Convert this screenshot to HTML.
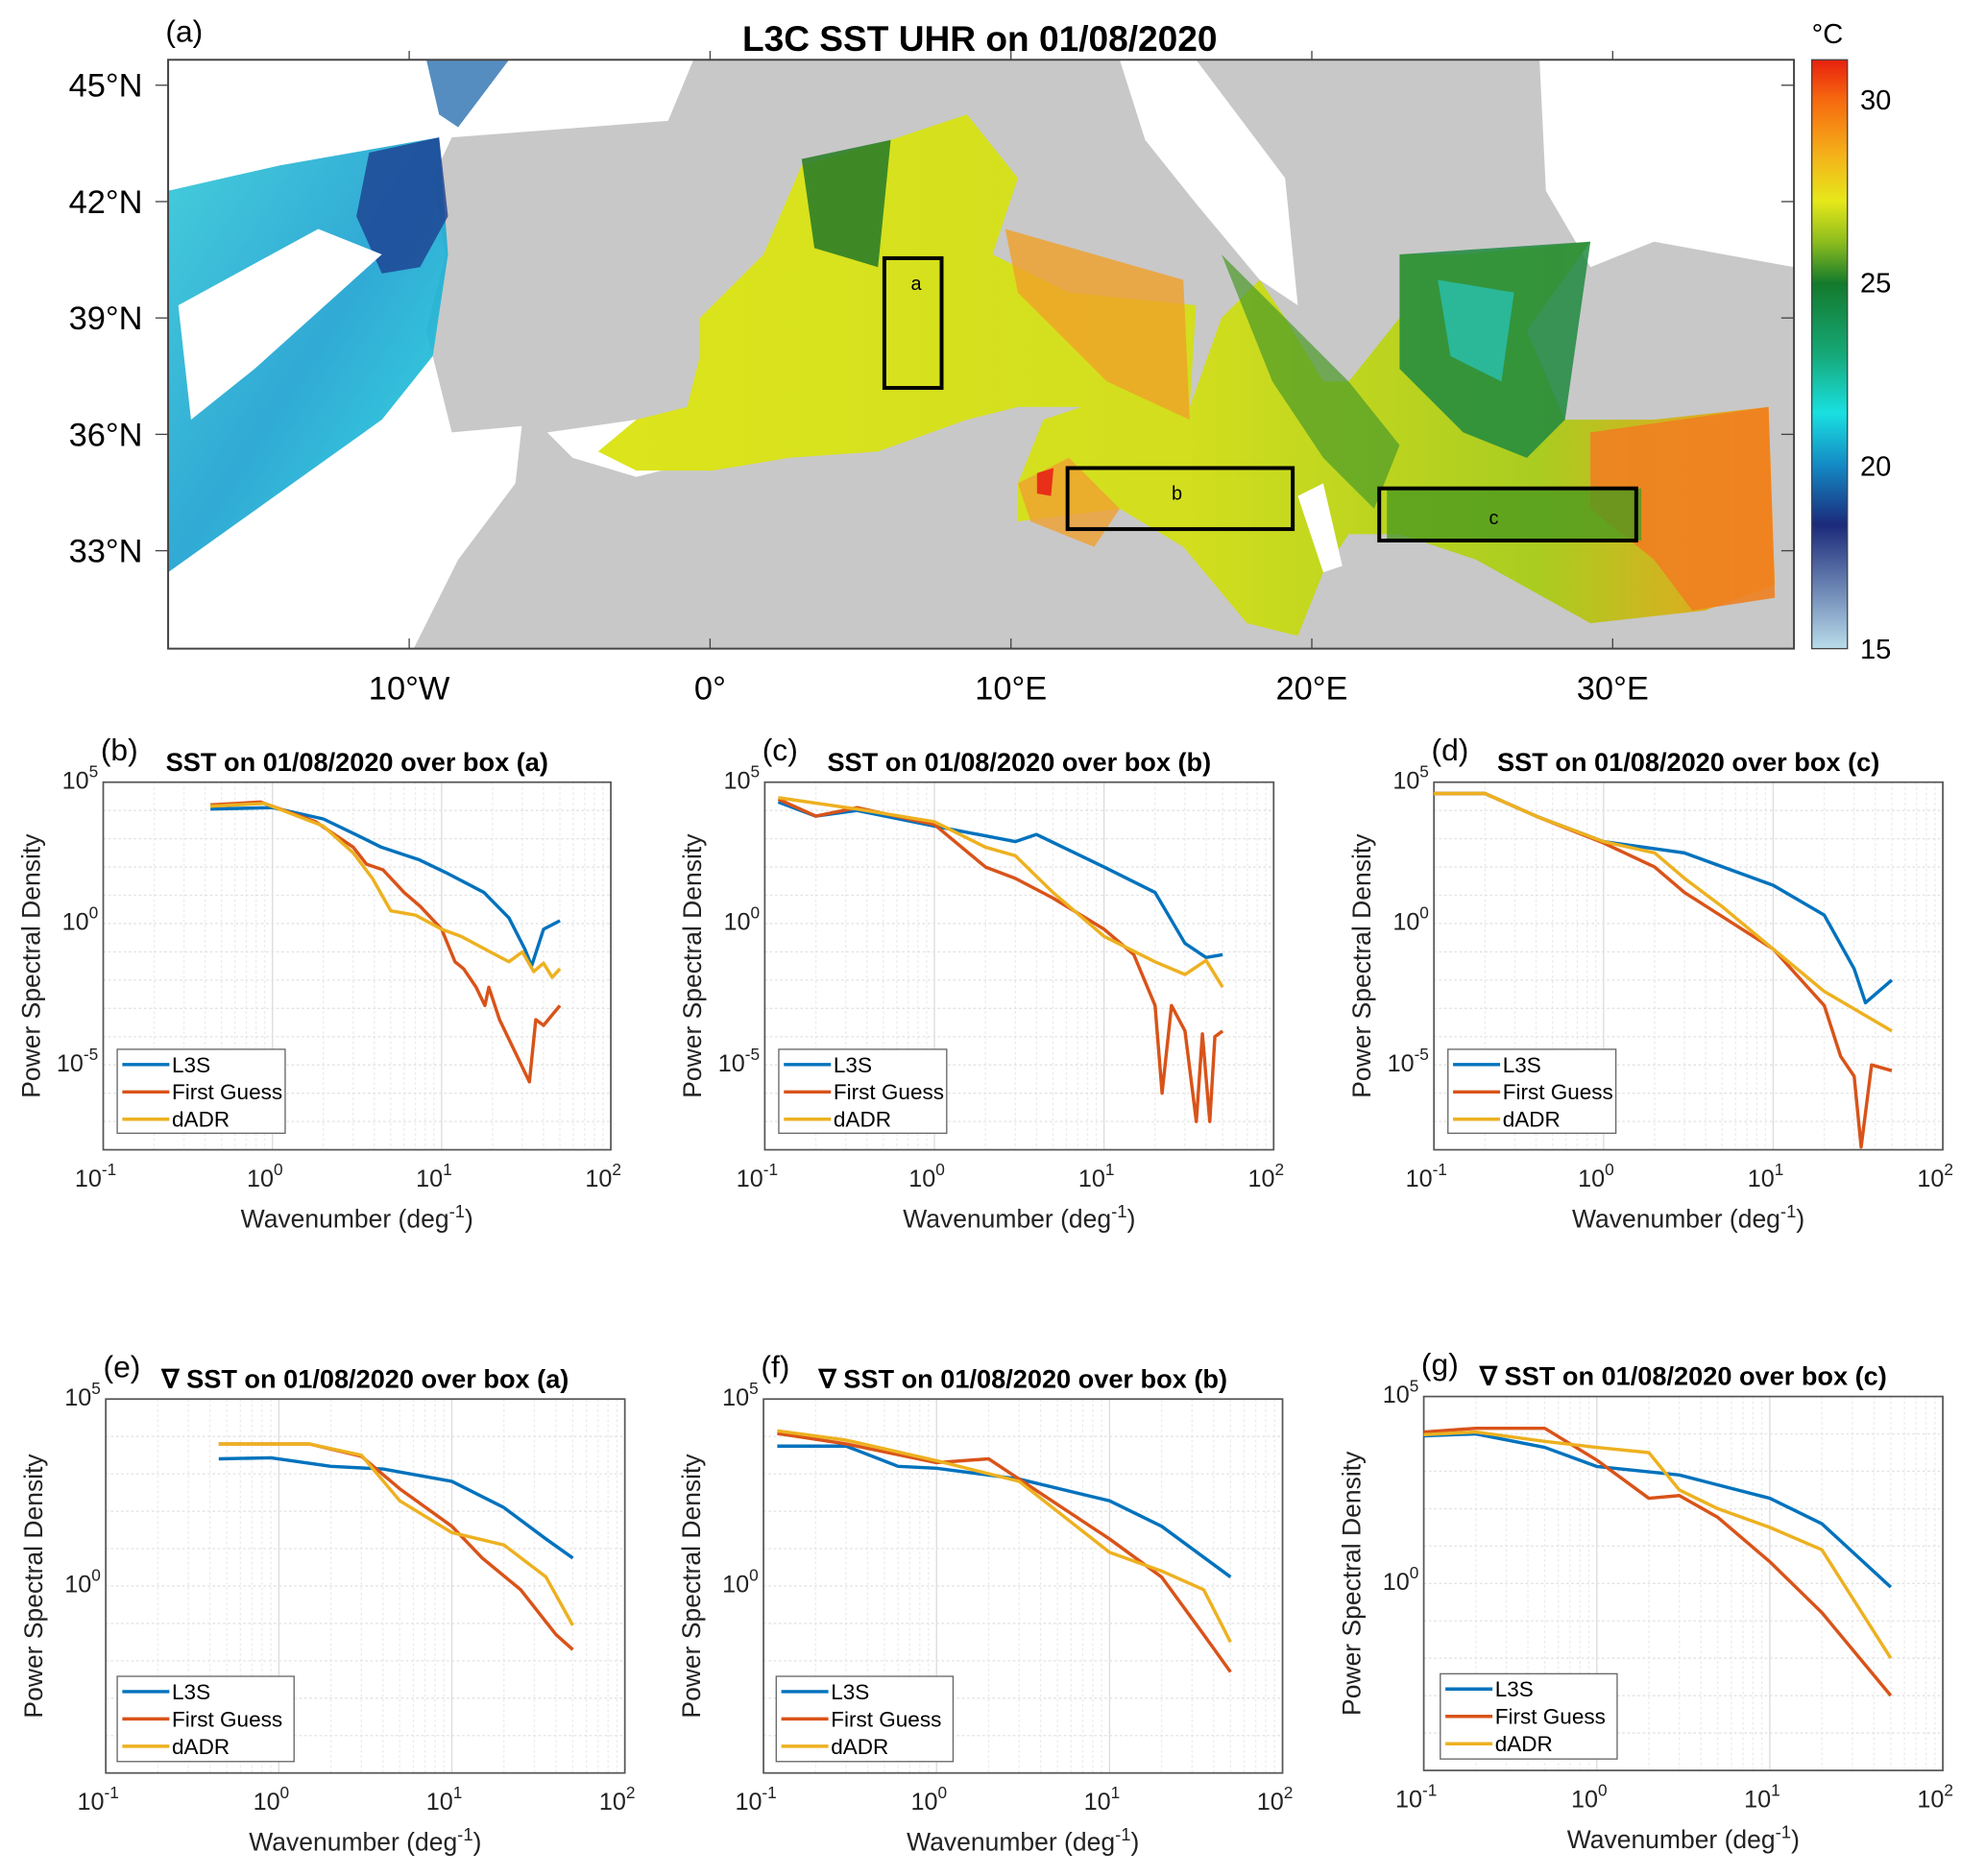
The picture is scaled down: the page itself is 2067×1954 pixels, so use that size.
<!DOCTYPE html>
<html><head><meta charset="utf-8"><style>
html,body{margin:0;padding:0;background:#fff;}
svg{display:block;font-family:"Liberation Sans",sans-serif;}
</style></head><body>
<svg id="fig" width="2067" height="1954" viewBox="0 0 1560 1475" xmlns="http://www.w3.org/2000/svg">
<defs>
<linearGradient id="cbar" x1="0" y1="0" x2="0" y2="1">
<stop offset="0" stop-color="#e8200e"/><stop offset="0.067" stop-color="#f6680f"/><stop offset="0.16" stop-color="#f5b01a"/><stop offset="0.24" stop-color="#e6e81a"/><stop offset="0.31" stop-color="#8cbc1e"/><stop offset="0.38" stop-color="#137a2c"/><stop offset="0.50" stop-color="#16a878"/><stop offset="0.60" stop-color="#19e0e0"/><stop offset="0.69" stop-color="#1488c4"/><stop offset="0.79" stop-color="#1b2a7a"/><stop offset="1" stop-color="#b9dcea"/>
</linearGradient>
<linearGradient id="atl" x1="0" y1="0" x2="1" y2="1"><stop offset="0" stop-color="#30c8d8"/><stop offset="0.5" stop-color="#1aa0d0"/><stop offset="1" stop-color="#20d8e0"/></linearGradient>
<linearGradient id="med" x1="0" y1="0" x2="1" y2="0"><stop offset="0" stop-color="#dce41c"/><stop offset="0.5" stop-color="#d2de1e"/><stop offset="0.8" stop-color="#aacc20"/><stop offset="1" stop-color="#f0a020"/></linearGradient>
</defs>
<g id="map">
<rect x="132" y="47" width="1278" height="463" fill="#c8c8c8"/>
<polygon fill="#fff" points="132,47 545,47 525,95 460,100 355,108 340,140 350,200 335,260 345,300 355,340 410,335 405,380 360,440 340,480 325,510 132,510"/>
<polygon fill="url(#atl)" opacity="0.9" points="132,150 220,130 345,108 352,200 340,280 300,330 230,380 160,430 132,450"/>
<polygon fill="#1d3f90" opacity="0.8" points="290,120 345,108 352,170 330,210 300,215 280,170"/>
<polygon fill="#2a70b0" opacity="0.8" points="335,47 400,47 360,100 345,90"/>
<polygon fill="#fff" points="140,240 250,180 300,200 200,290 150,330"/>
<polygon fill="#fff" points="1210,47 1410,47 1410,210 1300,190 1250,210 1215,150"/>
<polygon fill="#fff" points="880,47 940,47 1010,140 1020,240 990,220 940,160 900,110"/>
<polygon fill="#fff" points="430,340 500,330 560,330 560,360 500,375 450,360"/>
<polygon fill="url(#med)" points="550,250 600,200 630,130 700,110 760,90 800,140 780,200 840,230 940,240 935,320 960,250 990,220 1010,250 1040,300 1060,300 1100,250 1100,200 1150,200 1250,190 1200,260 1230,330 1300,330 1390,320 1395,460 1340,480 1250,490 1160,440 1100,420 1060,420 1040,450 1020,500 980,490 930,430 880,400 800,410 800,380 820,330 850,320 800,320 760,330 690,355 620,360 560,370 500,370 470,355 500,330 540,320 550,280"/>
<polygon fill="#f0a028" opacity="0.8" points="790,180 930,220 935,330 870,300 800,230"/>
<polygon fill="#f08020" opacity="0.9" points="1250,340 1390,320 1395,470 1330,480 1300,440 1250,400"/>
<polygon fill="#f0a030" opacity="0.8" points="800,380 840,360 880,400 860,430 810,410"/>
<polygon fill="#e83018" points="815,372 828,368 826,390 815,388"/>
<polygon fill="#1f8a40" opacity="0.85" points="1100,200 1250,190 1230,330 1200,360 1150,340 1100,290"/>
<polygon fill="#28c0b0" opacity="0.8" points="1130,220 1190,230 1180,300 1140,280"/>
<polygon fill="#4a9a28" opacity="0.7" points="960,200 1010,250 1060,300 1100,350 1080,400 1040,360 1000,300"/>
<polygon fill="#2e7f28" opacity="0.9" points="630,125 700,110 690,210 640,195"/>
<polygon fill="#4c9a1e" opacity="0.8" points="1090,384 1290,384 1290,425 1090,425"/>
<polygon fill="#fff" points="1020,390 1040,380 1055,445 1040,450"/>
<rect x="695" y="203" width="45" height="102" fill="none" stroke="#000" stroke-width="3"/>
<text x="720" y="228" font-size="15" text-anchor="middle">a</text>
<rect x="839" y="368" width="177" height="48" fill="none" stroke="#000" stroke-width="3"/>
<text x="925" y="393" font-size="15" text-anchor="middle">b</text>
<rect x="1084" y="384" width="202" height="41" fill="none" stroke="#000" stroke-width="3"/>
<text x="1174" y="412" font-size="15" text-anchor="middle">c</text>
<rect x="132" y="47" width="1278" height="463" fill="none" stroke="#444" stroke-width="1.5"/>
<g id="mapticks"></g>
<text x="770" y="40" font-size="28" font-weight="bold" text-anchor="middle">L3C SST UHR on 01/08/2020</text>
<text x="130" y="33" font-size="24">(a)</text>
<rect x="1424" y="47" width="28" height="463" fill="url(#cbar)" stroke="#444"/>
<text x="1424" y="34" font-size="22">°C</text>
<g id="cbticks"></g>
</g>
<g id="plots"></g>
</svg>
<script>
const NS="http://www.w3.org/2000/svg";
function mk(tag,attrs,parent,txt){const e=document.createElementNS(NS,tag);for(const k in attrs)e.setAttribute(k,attrs[k]);if(txt!==undefined)e.textContent=txt;parent.appendChild(e);return e;}

const lonTicks=[-10,0,10,20,30];
const lonLabels=["10°W","0°","10°E","20°E","30°E"];
const latTicks=[45,42,39,36,33];
const latLabels=["45°N","42°N","39°N","36°N","33°N"];
const cbTicks=[30,25,20,15];
function lonX(l){return 558+23.65*l;}
function latY(l){return 67+(45-l)*(366/12);}
function cbY(t){return 510-(t-15)*(432/15);}
const mt=document.getElementById('mapticks');
lonTicks.forEach((l,i)=>{const x=lonX(l);
 mk('line',{x1:x,x2:x,y1:40,y2:47,stroke:'#444'},mt);mk('line',{x1:x,x2:x,y1:510,y2:502,stroke:'#444'},mt);
 const t=mk('text',{x:x,y:550,'font-size':26,'text-anchor':'middle'},mt,lonLabels[i]);
 
 });
latTicks.forEach((l,i)=>{const y=latY(l);
 mk('line',{x1:132,x2:122,y1:y,y2:y,stroke:'#444'},mt);mk('line',{x1:1410,x2:1400,y1:y,y2:y,stroke:'#444'},mt);
 const t=mk('text',{x:112,y:y+9,'font-size':26,'text-anchor':'end'},mt,latLabels[i]);
 
 });
const cbt=document.getElementById('cbticks');
cbTicks.forEach(v=>{const y=cbY(v);
 const t=mk('text',{x:1462,y:y+8,'font-size':22},cbt,String(v));
 
 });

const kB_L3S=[0.43,1,2,3.1,4.4,7.4,10.6,17.8,25,31,34,40,50];
const pB_L3S=[4.05,4.1,3.7,3.15,2.7,2.25,1.8,1.1,0.2,-0.9,-1.5,-0.2,0.1];
const kB_FG=[0.43,0.85,1.8,3,3.6,4.5,6,7.5,10,12,13.5,16,18,19,22,33,36,40,50];
const pB_FG=[4.2,4.3,3.6,2.7,2.1,1.9,1.1,0.6,-0.2,-1.35,-1.6,-2.25,-2.9,-2.25,-3.4,-5.6,-3.4,-3.6,-2.9];
const kB_AD=[0.43,0.9,2,3,3.9,5,7,10,13,18,25,30,35,40,45,50];
const pB_AD=[4.15,4.25,3.45,2.5,1.6,0.45,0.3,-0.2,-0.45,-0.9,-1.35,-1.0,-1.7,-1.4,-1.9,-1.6];

const kC_L3S=[0.12,0.2,0.35,1,3,4,10,20,30,40,50];
const pC_L3S=[4.3,3.8,4.0,3.45,2.9,3.15,2.0,1.1,-0.7,-1.2,-1.1];
const kC_FG=[0.12,0.2,0.35,1,2,3,5,10,15,20,22,25,30,35,38,42,45,50];
const pC_FG=[4.4,3.8,4.1,3.5,2.0,1.6,0.9,-0.2,-1.1,-2.9,-6,-2.9,-3.8,-7,-3.9,-7,-4,-3.8];
const kC_AD=[0.12,0.35,1,2,3,5,10,20,30,40,50];
const pC_AD=[4.45,4.05,3.6,2.7,2.4,1.1,-0.45,-1.35,-1.8,-1.3,-2.25];

const kD_L3S=[0.1,0.2,0.4,1,3,10,20,30,35,50];
const pD_L3S=[4.6,4.6,3.8,2.9,2.5,1.35,0.3,-1.6,-2.8,-2.0];
const kD_FG=[0.1,0.2,0.4,1,2,3,10,20,25,30,33,38,50];
const pD_FG=[4.6,4.6,3.8,2.85,2.0,1.1,-0.9,-2.9,-4.7,-5.4,-7.9,-5.0,-5.2];
const kD_AD=[0.1,0.2,0.4,1,2,3,5,10,20,50];
const pD_AD=[4.6,4.6,3.8,2.9,2.5,1.6,0.6,-0.9,-2.4,-3.8];

const kE_L3S=[0.45,0.9,2,4,10,20,35,50];
const pE_L3S=[3.4,3.43,3.2,3.13,2.8,2.1,1.26,0.75];
const kE_FG=[0.45,1.5,3,5,10,15,25,40,50];
const pE_FG=[3.8,3.8,3.47,2.6,1.6,0.75,-0.1,-1.3,-1.7];
const kE_AD=[0.45,1.5,3,5,10,20,35,50];
const pE_AD=[3.8,3.8,3.5,2.28,1.43,1.1,0.24,-1.05];

const kF_L3S=[0.12,0.3,0.6,1,3,10,20,50];
const pF_L3S=[3.74,3.74,3.2,3.15,2.86,2.28,1.6,0.24];
const kF_FG=[0.12,0.3,1,2,3,10,20,35,50];
const pF_FG=[4.08,3.8,3.3,3.4,2.86,1.26,0.24,-1.3,-2.3];
const kF_AD=[0.12,0.3,1,3,10,20,35,50];
const pF_AD=[4.15,3.9,3.35,2.8,0.9,0.4,-0.1,-1.5];

const kG_L3S=[0.1,0.2,0.5,1,3,10,20,50];
const pG_L3S=[3.95,4.0,3.64,3.13,2.9,2.28,1.6,-0.1];
const kG_FG=[0.1,0.2,0.5,1,2,3,5,10,20,50];
const pG_FG=[4.05,4.15,4.15,3.3,2.28,2.35,1.77,0.58,-0.78,-3.0];
const kG_AD=[0.1,0.2,0.5,1,2,3,5,10,20,50];
const pG_AD=[3.98,4.05,3.8,3.64,3.5,2.5,2.0,1.5,0.9,-2.0];

const panels=[
 {id:'b',title:'SST on 01/08/2020 over box (a)',x0:81,x1:480,y0:615,y1:904,ymin:-8,ymax:5,yt:[5,0,-5],s:[[kB_L3S,pB_L3S],[kB_FG,pB_FG],[kB_AD,pB_AD]],leg:[92,825,132,66]},
 {id:'c',title:'SST on 01/08/2020 over box (b)',x0:601,x1:1001,y0:615,y1:904,ymin:-8,ymax:5,yt:[5,0,-5],s:[[kC_L3S,pC_L3S],[kC_FG,pC_FG],[kC_AD,pC_AD]],leg:[612,825,132,66]},
 {id:'d',title:'SST on 01/08/2020 over box (c)',x0:1127,x1:1527,y0:615,y1:904,ymin:-8,ymax:5,yt:[5,0,-5],s:[[kD_L3S,pD_L3S],[kD_FG,pD_FG],[kD_AD,pD_AD]],leg:[1138,825,132,66]},
 {id:'e',title:'∇ SST on 01/08/2020 over box (a)',x0:83,x1:491,y0:1100,y1:1394,ymin:-5,ymax:5,yt:[5,0],s:[[kE_L3S,pE_L3S],[kE_FG,pE_FG],[kE_AD,pE_AD]],leg:[92,1318,139,67]},
 {id:'f',title:'∇ SST on 01/08/2020 over box (b)',x0:600,x1:1008,y0:1100,y1:1394,ymin:-5,ymax:5,yt:[5,0],s:[[kF_L3S,pF_L3S],[kF_FG,pF_FG],[kF_AD,pF_AD]],leg:[610,1318,139,67]},
 {id:'g',title:'∇ SST on 01/08/2020 over box (c)',x0:1119,x1:1527,y0:1098,y1:1392,ymin:-5,ymax:5,yt:[5,0],s:[[kG_L3S,pG_L3S],[kG_FG,pG_FG],[kG_AD,pG_AD]],leg:[1132,1316,139,67]}
];
const colors=['#0072bd','#d95319','#edb120'];
const names=['L3S','First Guess','dADR'];
const root=document.getElementById('plots');
panels.forEach(P=>{
 const g=mk('g',{},root);
 
 
 const X=k=>P.x0+(Math.log10(k)+1)/3*(P.x1-P.x0);
 const Y=v=>P.y0+(P.ymax-v)/(P.ymax-P.ymin)*(P.y1-P.y0);
 mk('rect',{x:P.x0,y:P.y0,width:P.x1-P.x0,height:P.y1-P.y0,fill:'#fff'},g);
 for(let d=-1;d<2;d++)for(let m=1;m<10;m++){if(d==-1&&m==1)continue;const x=X(m*Math.pow(10,d));
  mk('line',{x1:x,x2:x,y1:P.y0,y2:P.y1,stroke:m==1?'#dcdcdc':'#ececec','stroke-width':1,'stroke-dasharray':m==1?'':'2,2'},g);}
 for(let v=P.ymin+1;v<P.ymax;v++){const y=Y(v);mk('line',{x1:P.x0,x2:P.x1,y1:y,y2:y,stroke:'#e2e2e2','stroke-dasharray':'2,2'},g);}
 mk('rect',{x:P.x0,y:P.y0,width:P.x1-P.x0,height:P.y1-P.y0,fill:'none',stroke:'#555','stroke-width':1.3},g);
 P.s.forEach((s,i)=>{
  const pts=s[0].map((k,j)=>X(k).toFixed(1)+','+Y(s[1][j]).toFixed(1)).join(' ');
  const pl=mk('polyline',{points:pts,fill:'none',stroke:colors[i],'stroke-width':2.6,'stroke-linejoin':'round'},g);
  
  
 });
 [-1,0,1,2].forEach(e=>{const t=mk('text',{x:X(Math.pow(10,e))-6,y:P.y1+29,'font-size':19,'text-anchor':'middle',fill:'#222'},g);
  
  
  mk('tspan',{},t,'10');mk('tspan',{dy:-9,'font-size':13},t,String(e));});
 P.yt.forEach(e=>{const t=mk('text',{x:P.x0-4,y:Y(e)+5,'font-size':19,'text-anchor':'end',fill:'#222'},g);
  
  
  mk('tspan',{},t,'10');mk('tspan',{dy:-9,'font-size':13},t,String(e));});
 const xl=mk('text',{x:(P.x0+P.x1)/2,y:P.y1+61,'font-size':20,'text-anchor':'middle',fill:'#222'},g);
 
 
 mk('tspan',{},xl,'Wavenumber (deg');mk('tspan',{dy:-8,'font-size':14},xl,'-1');mk('tspan',{dy:8},xl,')');
 const cy=(P.y0+P.y1)/2, lx=P.x0-50;
 const yl=mk('text',{x:lx,y:cy,'font-size':20,'text-anchor':'middle',fill:'#222',transform:'rotate(-90 '+lx+' '+cy+')'},g,'Power Spectral Density');
 
 
 const tt=mk('text',{x:(P.x0+P.x1)/2,y:P.y0-9,'font-size':20.5,'font-weight':'bold','text-anchor':'middle'},g,P.title);
 
 
 const pl=mk('text',{x:P.x0-2,y:P.y0-17,'font-size':24},g,'('+P.id+')');
 
 
 const L=P.leg;
 const lg=mk('g',{},g);
 
 
 mk('rect',{x:L[0],y:L[1],width:L[2],height:L[3],fill:'#fff',stroke:'#666'},lg);
 names.forEach((n,i)=>{const y=L[1]+12+i*21.5;
  mk('line',{x1:L[0]+4,x2:L[0]+41,y1:y,y2:y,stroke:colors[i],'stroke-width':2.6},lg);
  const t=mk('text',{x:L[0]+43,y:y+6,'font-size':17},lg,n);
  
  });
});
</script>
</body></html>
